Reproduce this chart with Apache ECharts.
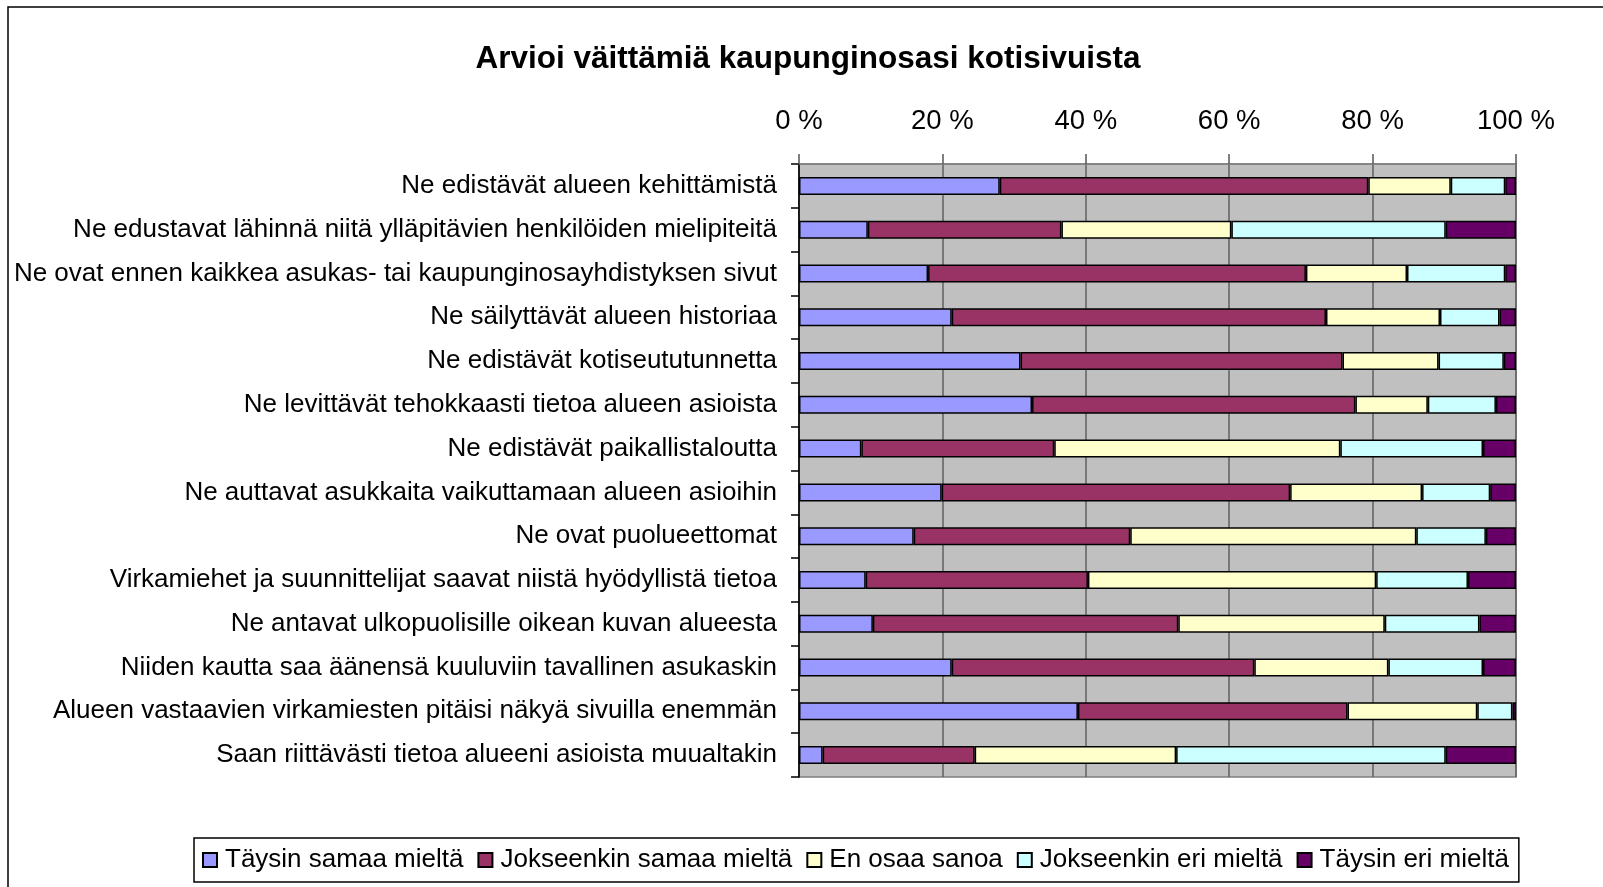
<!DOCTYPE html>
<html>
<head>
<meta charset="utf-8">
<script src="https://cdn.jsdelivr.net/npm/echarts@6/dist/echarts.min.js"></script>
<style>
	html, body { margin: 0; padding: 0; background: #fff; }
	#chart { width: 1603px; height: 887px; }
</style>
</head>
<body>
<div id="chart"></div>
<script>
	// Väittämät (ylhäältä alas)
	const väittämät = [
		'Ne edistävät alueen kehittämistä',
		'Ne edustavat lähinnä niitä ylläpitävien henkilöiden mielipiteitä',
		'Ne ovat ennen kaikkea asukas- tai kaupunginosayhdistyksen sivut',
		'Ne säilyttävät alueen historiaa',
		'Ne edistävät kotiseututunnetta',
		'Ne levittävät tehokkaasti tietoa alueen asioista',
		'Ne edistävät paikallistaloutta',
		'Ne auttavat asukkaita vaikuttamaan alueen asioihin',
		'Ne ovat puolueettomat',
		'Virkamiehet ja suunnittelijat saavat niistä hyödyllistä tietoa',
		'Ne antavat ulkopuolisille oikean kuvan alueesta',
		'Niiden kautta saa äänensä kuuluviin tavallinen asukaskin',
		'Alueen vastaavien virkamiesten pitäisi näkyä sivuilla enemmän',
		'Saan riittävästi tietoa alueeni asioista muualtakin',
	]

	// Osuudet prosentteina
	const täysinSamaa = [28.0, 9.6, 18.0, 21.3, 30.9, 32.5, 8.7, 19.9, 16.0, 9.3, 10.3, 21.3, 38.9, 3.3]
	const jokseenkinSamaa = [51.4, 27.0, 52.7, 52.2, 44.9, 45.1, 26.9, 48.6, 30.2, 31.0, 42.6, 42.2, 37.6, 21.2]
	const enOsaa = [11.5, 23.7, 14.1, 15.9, 13.4, 10.1, 39.9, 18.4, 39.9, 40.2, 28.8, 18.7, 18.1, 28.1]
	const jokseenkinEri = [7.6, 29.9, 13.7, 8.3, 9.1, 9.5, 19.9, 9.5, 9.7, 12.8, 13.2, 13.2, 4.9, 37.6]
	const täysinEri = [1.5, 9.8, 1.5, 2.3, 1.7, 2.8, 4.6, 3.6, 4.2, 6.7, 5.1, 4.6, 0.5, 9.8]

	const sarjat = ['Täysin samaa mieltä', 'Jokseenkin samaa mieltä', 'En osaa sanoa', 'Jokseenkin eri mieltä', 'Täysin eri mieltä']
	const värit = ['#9999FF', '#993366', '#FFFFCC', '#CCFFFF', '#660066']
	const akselinTekstit = ['0 %', '20 %', '40 %', '60 %', '80 %', '100 %']

	const fontti = '"Liberation Sans", Arial, sans-serif'
	const chart = echarts.init(document.getElementById('chart'))

	const arvot = [täysinSamaa, jokseenkinSamaa, enOsaa, jokseenkinEri, täysinEri]

	chart.setOption({
		animation: false,
		textStyle: { fontFamily: fontti },
		graphic: [
			{
				type: 'rect',
				silent: true,
				shape: { x: 8, y: 7, width: 1700, height: 1000 },
				style: { fill: 'none', stroke: '#000', lineWidth: 1.5 },
			},
			{
				type: 'text',
				silent: true,
				style: {
					x: 808,
					y: 59,
					text: 'Arvioi väittämiä kaupunginosasi kotisivuista',
					textAlign: 'center',
					textVerticalAlign: 'middle',
					font: 'bold 31.5px ' + fontti,
					fill: '#000',
				},
			},
		],
		grid: {
			left: 799,
			right: 87,
			top: 164,
			height: 613,
			show: true,
			backgroundColor: '#C0C0C0',
			borderColor: '#808080',
			borderWidth: 1.5,
		},
		legend: {
			bottom: 5,
			left: 194,
			data: sarjat,
			orient: 'horizontal',
			itemWidth: 14,
			itemHeight: 14,
			itemGap: 14,
			padding: [9, 10, 9, 8],
			borderColor: '#000',
			borderWidth: 1.5,
			textStyle: { fontSize: 26, color: '#000', fontFamily: fontti, padding: [0, 0, 0, 3] },
			icon: 'rect',
		},
		xAxis: {
			type: 'value',
			position: 'top',
			min: 0,
			max: 100,
			interval: 20,
			axisLine: { show: true, lineStyle: { color: '#808080', width: 1.5 } },
			axisTick: { show: true, inside: false, length: 10, lineStyle: { color: '#555', width: 1.5 } },
			axisLabel: {
				fontSize: 27.5,
				color: '#000',
				margin: 29,
				formatter: (v) => akselinTekstit[Math.round(v / 20)],
			},
			splitLine: { show: true, lineStyle: { color: '#606060', width: 1.5 } },
		},
		yAxis: {
			type: 'category',
			inverse: true,
			data: väittämät,
			axisLine: { show: true, lineStyle: { color: '#000', width: 1.5 } },
			axisTick: { show: true, length: 8, lineStyle: { color: '#000', width: 1.5 } },
			axisLabel: { fontSize: 26, color: '#000', margin: 22 },
			splitLine: { show: false },
		},
		series: sarjat.map((nimi, i) => ({
			name: nimi,
			type: 'bar',
			stack: 'kaikki',
			barWidth: 18,
			data: arvot[i],
			itemStyle: { color: värit[i], borderColor: '#000', borderWidth: 1.5 },
		})),
	})
</script>
</body>
</html>
